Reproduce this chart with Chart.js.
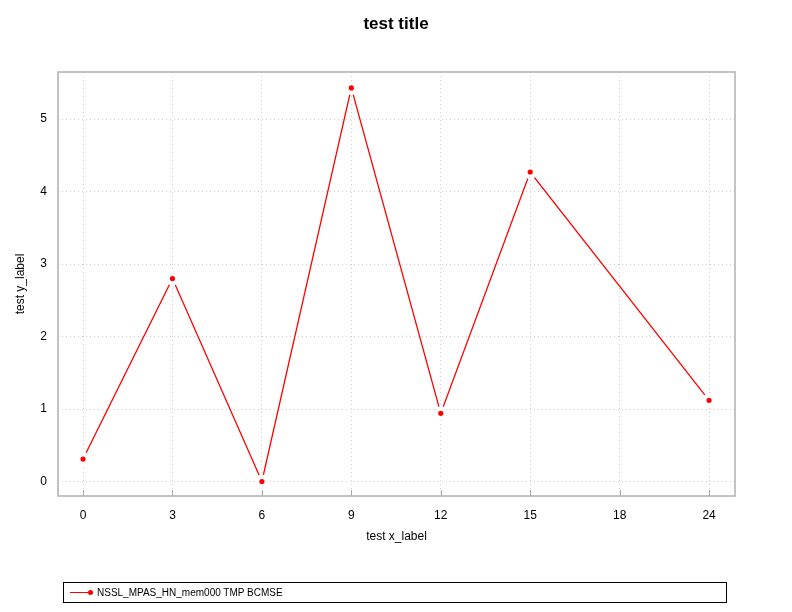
<!DOCTYPE html>
<html>
<head>
<meta charset="utf-8">
<script src="https://cdn.jsdelivr.net/npm/chart.js@4/dist/chart.umd.min.js"></script>
<style>
  html, body { margin: 0; padding: 0; background: #fff; }
  #wrap { position: relative; width: 792px; height: 612px; }
  #c { position: absolute; left: 0; top: 0; }
  #legend {
    position: absolute; left: 63px; top: 582px; width: 662px; height: 19px;
    border: 1px solid #000; font-family: "Liberation Sans", Arial, sans-serif;
    font-size: 10px; color: #000; line-height: 19px;
  }
  #legend .sw { position: absolute; left: 6px; top: 9px; width: 22px; height: 1px; background: #f00; }
  #legend .dot { position: absolute; left: 24px; top: 7px; width: 5px; height: 5px; border-radius: 50%; background: #f00; }
  #legend .tx { position: absolute; left: 33px; top: 0; }
</style>
</head>
<body>
<div id="wrap">
  <canvas id="c" width="792" height="612"></canvas>
  <div id="legend"><span class="sw"></span><span class="dot"></span><span class="tx">NSSL_MPAS_HN_mem000 TMP BCMSE</span></div>
</div>
<script>
const categories = ['0', '3', '6', '9', '12', '15', '18', '24'];
const pointCategories = ['0', '3', '6', '9', '12', '15', '24'];
const seriesValues = [0.31, 2.80, 0.00, 5.43, 0.94, 4.27, 1.12];
const seriesName = 'NSSL_MPAS_HN_mem000 TMP BCMSE';

const dataPoints = pointCategories.map((c, i) => ({ x: categories.indexOf(c), y: seriesValues[i] }));

const FONT = '"Liberation Sans", Arial, sans-serif';

const framePlugin = {
  id: 'frame',
  afterDraw(chart) {
    const { ctx, chartArea: a } = chart;
    const xs = chart.scales.x;
    ctx.save();
    ctx.strokeStyle = '#a8a8a8';
    ctx.lineWidth = 1;
    ctx.setLineDash([]);
    ctx.beginPath();
    xs.ticks.forEach(t => {
      const px = Math.round(xs.getPixelForValue(t.value)) + 0.5;
      ctx.moveTo(px, a.bottom);
      ctx.lineTo(px, a.bottom - 6);
    });
    ctx.stroke();
    ctx.strokeStyle = '#b0b0b0';
    ctx.lineWidth = 1.5;
    ctx.strokeRect(a.left, a.top, a.right - a.left, a.bottom - a.top);
    ctx.restore();
  }
};

new Chart(document.getElementById('c'), {
  type: 'line',
  data: {
    datasets: [{
      label: seriesName,
      data: dataPoints,
      borderColor: '#ff0000',
      backgroundColor: '#ff0000',
      borderWidth: 1.3,
      pointRadius: 4.8,
      pointBorderWidth: 4.4,
      pointBorderColor: '#ffffff',
      pointBackgroundColor: '#ff0000',
      tension: 0,
      fill: false
    }]
  },
  options: {
    responsive: false,
    animation: false,
    devicePixelRatio: 1,
    layout: { padding: { left: 0, right: 0, top: 0, bottom: 67 } },
    plugins: {
      legend: { display: false },
      tooltip: { enabled: false },
      title: {
        display: true,
        text: 'test title',
        color: '#000',
        font: { family: FONT, size: 17, weight: 'bold' },
        padding: { top: 14, bottom: 37.6 }
      }
    },
    scales: {
      x: {
        type: 'linear',
        min: -0.28,
        max: 7.29,
        afterFit(s) { s.height = 49; },
        ticks: {
          stepSize: 1,
          includeBounds: false,
          padding: 12,
          color: '#000',
          font: { family: FONT, size: 12 },
          callback: v => categories[v] !== undefined ? categories[v] : ''
        },
        grid: { color: '#d0d0d0', lineWidth: 1, drawTicks: false },
        border: { display: false, dash: [1, 3] },
        title: {
          display: true, text: 'test x_label', color: '#000',
          font: { family: FONT, size: 12 }, padding: { top: 0, bottom: 1 }
        }
      },
      y: {
        type: 'linear',
        min: -0.2,
        max: 5.65,
        afterFit(s) { s.width = 58; },
        ticks: {
          stepSize: 1,
          includeBounds: false,
          padding: 11,
          color: '#000',
          font: { family: FONT, size: 12 }
        },
        grid: { color: '#d0d0d0', lineWidth: 1, drawTicks: false },
        border: { display: false, dash: [1, 3] },
        title: {
          display: true, text: 'test y_label', color: '#000',
          font: { family: FONT, size: 12 }, padding: { top: 13, bottom: 0 }
        }
      },
      yr: {
        type: 'linear',
        position: 'right',
        display: true,
        afterFit(s) { s.width = 57; },
        ticks: { display: false },
        grid: { display: false, drawTicks: false },
        border: { display: false }
      }
    }
  },
  plugins: [framePlugin]
});
</script>
</body>
</html>
